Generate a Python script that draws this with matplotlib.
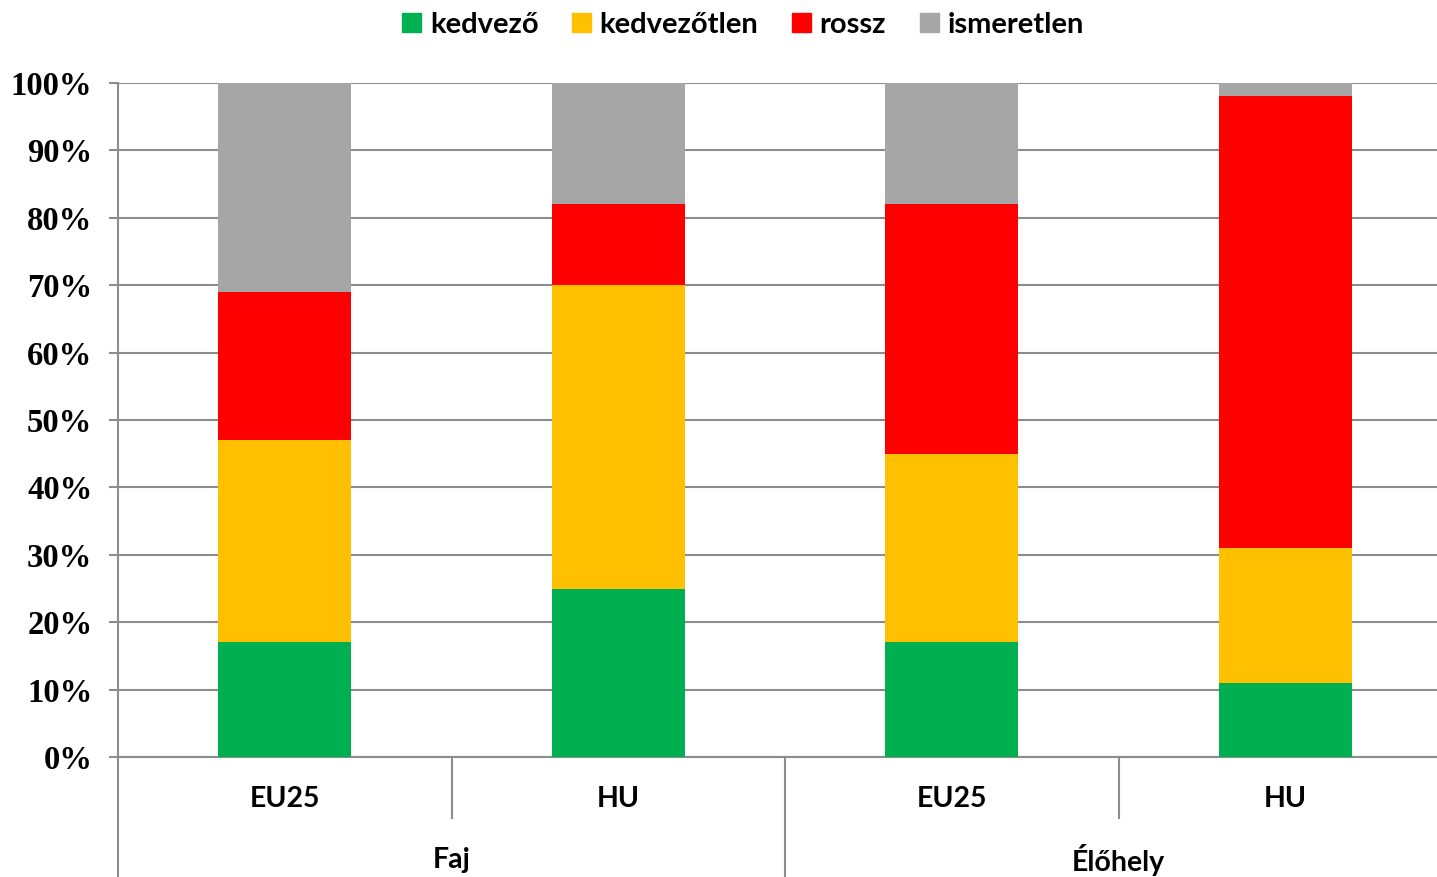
import numpy as np
import matplotlib.pyplot as plt
from matplotlib.patches import Patch
from matplotlib.lines import Line2D

groups = ["Faj", "Élőhely"]
regions = ["EU25", "HU", "EU25", "HU"]
series = ["kedvező", "kedvezőtlen", "rossz", "ismeretlen"]
kedvezo = [17, 25, 17, 11]
kedvezotlen = [30, 45, 28, 20]
rossz = [22, 12, 37, 67]
ismeretlen = [31, 18, 18, 2]
colors = ["#00b050", "#ffc000", "#ff0000", "#a6a6a6"]
ytick_labels = ["0%", "10%", "20%", "30%", "40%", "50%", "60%", "70%", "80%", "90%", "100%"]

W, H = 1437, 877
fig = plt.figure(figsize=(W / 100, H / 100), dpi=100)
x0, x1, y0, y1 = 118, 1437, 757, 83
ax = fig.add_axes([x0 / W, (H - y0) / H, (x1 - x0) / W, (y0 - y1) / H])

slot = 333.5
x = np.arange(len(regions)) + 0.5
bottom = np.zeros(len(regions))
for vals, c in zip([kedvezo, kedvezotlen, rossz, ismeretlen], colors):
    ax.bar(x, vals, width=0.4, bottom=bottom, color=c, zorder=3)
    bottom += np.array(vals)

ax.set_xlim(0, (x1 - x0) / slot)
ax.set_ylim(0, 100)
ax.set_yticks(np.arange(0, 101, 10))
ax.set_yticklabels(ytick_labels, fontfamily="Liberation Serif", fontweight="bold", fontsize=23.5)
ax.yaxis.grid(True, color="#8c8c8c", linewidth=1.5, zorder=0)
ax.tick_params(axis="y", length=6.5, width=1.5, color="#8c8c8c", pad=12)
ax.set_xticks([])
for s in ["top", "right"]:
    ax.spines[s].set_visible(False)
ax.spines["left"].set_color("#8c8c8c")
ax.spines["left"].set_linewidth(1.5)
ax.spines["bottom"].set_color("#8c8c8c")
ax.spines["bottom"].set_linewidth(1.5)

# category axis labels and separators
gray = "#8c8c8c"
def fx(px):
    return px / W
def fy(py):
    return (H - py) / H

fig.add_artist(Line2D([fx(x0), fx(x0)], [fy(757), 0], color=gray, lw=1.5))
for i in range(1, len(regions)):
    px = x0 + i * slot
    end = 877 if i == 2 else 818
    fig.add_artist(Line2D([fx(px), fx(px)], [fy(757), fy(end)], color=gray, lw=1.5))
for i, r in enumerate(regions):
    fig.text(fx(x0 + (i + 0.5) * slot), fy(799), r, ha="center", va="center",
             fontfamily="Lato", fontweight="bold", fontsize=20.5)
for i, g in enumerate(groups):
    fig.text(fx(x0 + (2 * i + 1) * slot), fy(860), g, ha="center", va="center",
             fontfamily="Lato", fontweight="bold", fontsize=20.5)

handles = [Patch(color=c, label=s) for c, s in zip(colors, series)]
leg = fig.legend(handles=handles, loc="center", bbox_to_anchor=(fx(743), fy(25)), ncol=4,
                 frameon=False, handlelength=0.65, handleheight=0.65, handletextpad=0.3,
                 columnspacing=1.15, prop={"family": "Lato", "weight": "bold", "size": 21})

fig.savefig("out.png", dpi=100)
